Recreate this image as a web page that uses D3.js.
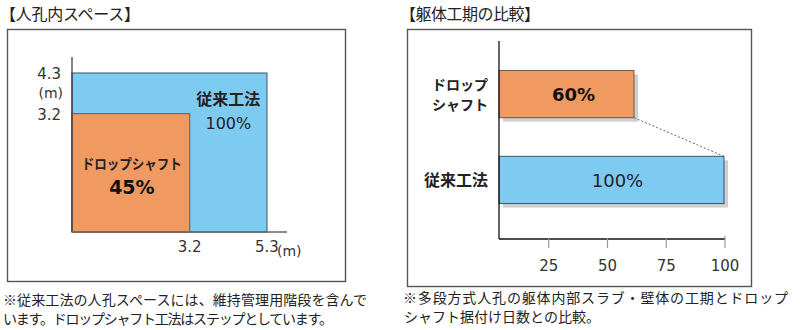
<!DOCTYPE html>
<html><head><meta charset="utf-8">
<script src="https://cdn.jsdelivr.net/npm/d3@7"></script>
<style>body{margin:0;background:#fff}svg{display:block;font-family:"Noto Sans CJK JP","Noto Sans",sans-serif}</style>
</head><body>
<script>
// Left chart data (m)
const spaceNames = ["従来工法", "ドロップシャフト"];
const spaceWidths = [5.3, 3.2];
const spaceDepths = [4.3, 3.2];
const spacePercents = ["100%", "45%"];
const spaceTickX = [3.2, 5.3];
const spaceTickY = [4.3, 3.2];
// Right chart data (%)
const periodNames = [["ドロップ", "シャフト"], ["従来工法"]];
const periodValues = [60, 100];
const periodTicks = [25, 50, 75, 100];

const W = 800, H = 330;
const svg = d3.select("body").append("svg").attr("width", W).attr("height", H);
const numFont = '"DejaVu Sans", "Noto Sans", sans-serif';
const blue = "#7ecbf2", orange = "#f09a62";

// Titles
svg.append("text").attr("x", 0).attr("y", 20).attr("font-size", 16).attr("fill", "#222")
  .attr("textLength", 140).attr("lengthAdjust", "spacing").text("【人孔内スペース】");
svg.append("text").attr("x", 400).attr("y", 20).attr("font-size", 16).attr("fill", "#222")
  .attr("textLength", 140).attr("lengthAdjust", "spacing").text("【躯体工期の比較】");

// Frames
function frame(x, y, w, h) {
  svg.append("rect").attr("x", x).attr("y", y).attr("width", w).attr("height", h)
    .attr("fill", "none").attr("stroke", "#555").attr("stroke-width", 1.4);
}
frame(7.5, 29.5, 338, 252);
frame(407.5, 29.5, 344, 257);

// ---------- Left chart ----------
const lx = d3.scaleLinear().domain([0, 5.3]).range([72, 267]);
const ly = d3.scaleLinear().domain([0, 4.3]).range([232, 73]);
const L = svg.append("g");
const idx = [0, 1];
L.selectAll("rect.sp").data(idx).join("rect").attr("class", "sp")
  .attr("x", lx(0)).attr("y", i => ly(spaceDepths[i]))
  .attr("width", i => lx(spaceWidths[i]) - lx(0))
  .attr("height", i => ly(0) - ly(spaceDepths[i]))
  .attr("fill", i => i === 0 ? blue : orange)
  .attr("stroke", i => i === 0 ? "#3d5566" : "#6a5a50").attr("stroke-width", 1);
// axes
L.append("line").attr("x1", lx(0)).attr("x2", lx(0)).attr("y1", 57).attr("y2", ly(0)).attr("stroke", "#333").attr("stroke-width", 1.2);
L.append("line").attr("x1", lx(0)).attr("x2", 287).attr("y1", ly(0)).attr("y2", ly(0)).attr("stroke", "#666").attr("stroke-width", 1.5);
L.selectAll("text.yt").data(spaceTickY).join("text").attr("class", "yt")
  .attr("x", 61).attr("y", d => ly(d) + 6).attr("text-anchor", "end")
  .style("font-family", numFont).attr("font-size", 15).attr("fill", "#333").text(d => d.toFixed(1));
L.append("text").attr("x", 63).attr("y", ly(4.3) + 25).attr("text-anchor", "end")
  .style("font-family", numFont).attr("font-size", 14).attr("fill", "#333").text("(m)");
L.selectAll("text.xt").data(spaceTickX).join("text").attr("class", "xt")
  .attr("x", d => lx(d)).attr("y", 252).attr("text-anchor", "middle")
  .style("font-family", numFont).attr("font-size", 15).attr("fill", "#333").text(d => d.toFixed(1));
L.append("text").attr("x", lx(5.3) + 10).attr("y", 256).attr("text-anchor", "start")
  .style("font-family", numFont).attr("font-size", 14).attr("fill", "#333").text("(m)");
// labels
L.append("text").attr("x", (lx(3.2) + lx(5.3)) / 2 + 0).attr("y", 105).attr("text-anchor", "middle")
  .attr("font-size", 16).attr("font-weight", "bold").attr("fill", "#222").text(spaceNames[0]);
L.append("text").attr("x", (lx(3.2) + lx(5.3)) / 2 + 0).attr("y", 129).attr("text-anchor", "middle")
  .style("font-family", numFont).attr("font-size", 16).attr("fill", "#222").text(spacePercents[0]);
L.append("text").attr("x", (lx(0) + lx(3.2)) / 2 + 1).attr("y", 169).attr("text-anchor", "middle")
  .attr("font-size", 14).attr("font-weight", "bold").attr("fill", "#222")
  .attr("textLength", 100).attr("lengthAdjust", "spacingAndGlyphs").text(spaceNames[1]);
L.append("text").attr("x", (lx(0) + lx(3.2)) / 2 + 1).attr("y", 194).attr("text-anchor", "middle")
  .style("font-family", numFont).attr("font-size", 19).attr("font-weight", "bold").attr("fill", "#111").text(spacePercents[1]);

// ---------- Right chart ----------
const bx = d3.scaleLinear().domain([0, 100]).range([499, 724]);
const tx = d3.scaleLinear().domain([0, 100]).range([490, 725]);
const by = d3.scaleBand().domain([0, 1]).range([49, 225]).paddingInner(0.45).paddingOuter(0.25);
const R = svg.append("g");
// shadows
R.selectAll("rect.sh").data(periodValues).join("rect").attr("class", "sh")
  .attr("x", bx(0) + 4).attr("y", (d, i) => by(i) + 4)
  .attr("width", d => bx(d) - bx(0)).attr("height", by.bandwidth())
  .attr("fill", "#cfcfcf");
R.selectAll("rect.bar").data(periodValues).join("rect").attr("class", "bar")
  .attr("x", bx(0)).attr("y", (d, i) => by(i))
  .attr("width", d => bx(d) - bx(0)).attr("height", by.bandwidth())
  .attr("fill", (d, i) => i === 0 ? orange : blue)
  .attr("stroke", (d, i) => i === 0 ? "#6a5a50" : "#3d5566").attr("stroke-width", 1);
// dotted connector
R.append("line").attr("x1", bx(periodValues[0])).attr("y1", by(0) + by.bandwidth())
  .attr("x2", bx(periodValues[1])).attr("y2", by(1))
  .attr("stroke", "#666").attr("stroke-width", 1).attr("stroke-dasharray", "2,2");
// axes
R.append("line").attr("x1", 499).attr("x2", 499).attr("y1", 41).attr("y2", 239).attr("stroke", "#111").attr("stroke-width", 1.3);
R.append("line").attr("x1", 499).attr("x2", tx(100)).attr("y1", 239).attr("y2", 239).attr("stroke", "#111").attr("stroke-width", 1.3);
R.selectAll("line.tk").data(periodTicks).join("line").attr("class", "tk")
  .attr("x1", d => tx(d)).attr("x2", d => tx(d)).attr("y1", d => d === 100 ? 236 : 238).attr("y2", 248)
  .attr("stroke", "#999").attr("stroke-width", 1.2);
R.selectAll("text.tl").data(periodTicks).join("text").attr("class", "tl")
  .attr("x", d => tx(d)).attr("y", 271).attr("text-anchor", "middle")
  .style("font-family", numFont).attr("font-size", 15).attr("fill", "#333").text(d => d);
// category labels
periodNames.forEach((lines, i) => {
  const cy = by(i) + by.bandwidth() / 2;
  const fs = lines.length > 1 ? 14 : 16;
  lines.forEach((t, j) => {
    R.append("text").attr("x", 488).attr("y", cy + 6 + (j - (lines.length - 1) / 2) * 20)
      .attr("text-anchor", "end").attr("font-size", fs).attr("font-weight", "bold").attr("fill", "#222").text(t);
  });
});
R.append("text").attr("x", (bx(0) + bx(periodValues[0])) / 2 + 7).attr("y", by(0) + by.bandwidth() / 2 + 7)
  .attr("text-anchor", "middle").style("font-family", numFont).attr("font-size", 18).attr("font-weight", "bold").attr("fill", "#111").text(periodValues[0] + "%");
R.append("text").attr("x", (bx(0) + bx(periodValues[1])) / 2 + 6).attr("y", by(1) + by.bandwidth() / 2 + 7)
  .attr("text-anchor", "middle").style("font-family", numFont).attr("font-size", 18).attr("fill", "#222").text(periodValues[1] + "%");

// Footnotes
const notes = [
  [3, 305, 364, "※従来工法の人孔スペースには、維持管理用階段を含んで"],
  [3, 324, 330, "います。ドロップシャフト工法はステップとしています。"],
  [403, 303, 385, "※多段方式人孔の躯体内部スラブ・壁体の工期とドロップ"],
  [404, 322, 196, "シャフト据付け日数との比較。"]
];
svg.selectAll("text.note").data(notes).join("text").attr("class", "note")
  .attr("x", d => d[0]).attr("y", d => d[1]).attr("font-size", 14).attr("fill", "#222")
  .attr("textLength", d => d[2]).attr("lengthAdjust", "spacing").text(d => d[3]);
</script>
</body></html>
